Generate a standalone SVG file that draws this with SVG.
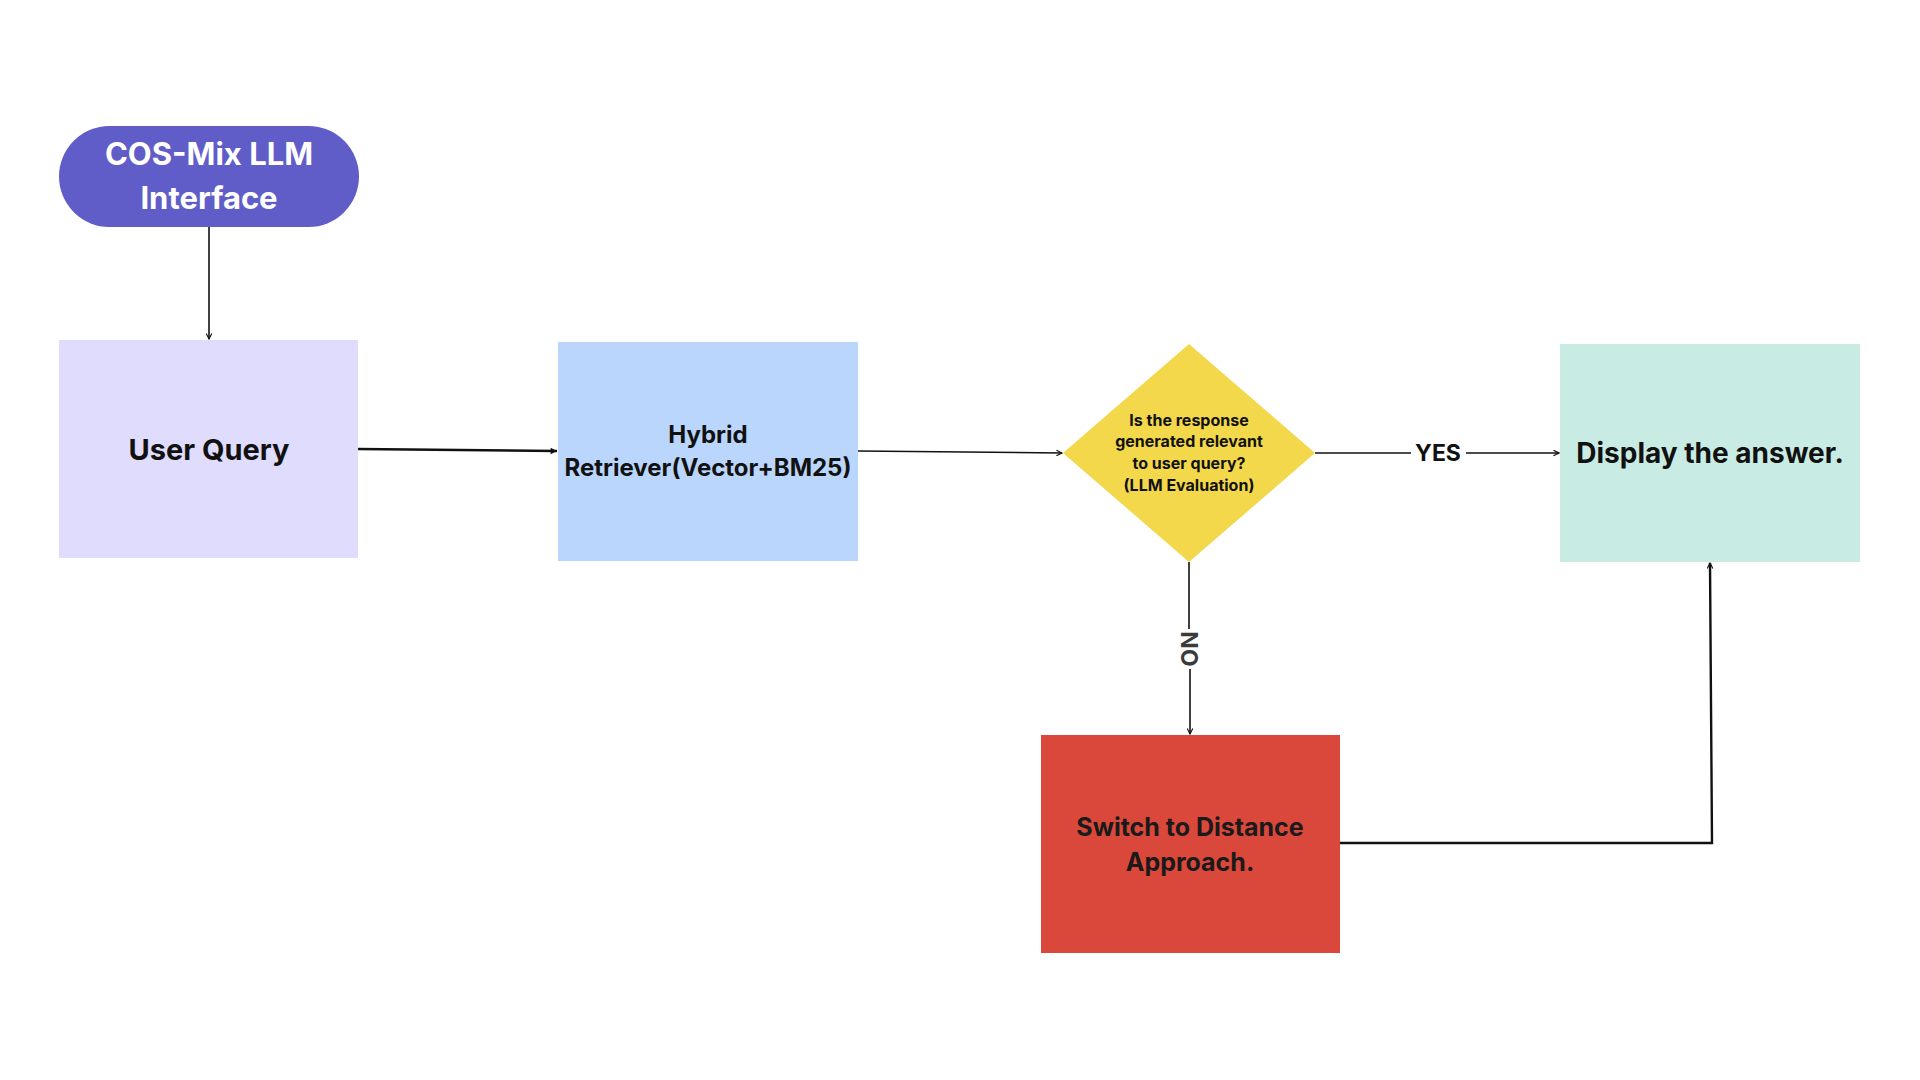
<svg xmlns="http://www.w3.org/2000/svg" width="1920" height="1080" viewBox="0 0 1920 1080">
  <style>
    text { font-family: Inter, "Liberation Sans", sans-serif; font-weight: 700; text-anchor: middle; fill: #111111; }
    .conn { fill: none; stroke: #111111; stroke-width: 1.6; }
    .thick { stroke-width: 2.4; }
  </style>
  <defs>
    <marker id="arr" viewBox="0 0 10 10" refX="9" refY="5" markerWidth="7" markerHeight="7" markerUnits="userSpaceOnUse" orient="auto">
      <path d="M1,1 L9,5 L1,9" fill="none" stroke="#111111" stroke-width="1.6"/>
    </marker>
    <marker id="arrf" viewBox="0 0 10 10" refX="9" refY="5" markerWidth="8" markerHeight="8" markerUnits="userSpaceOnUse" orient="auto">
      <path d="M1,1 L9,5 L1,9 Z" fill="#111111"/>
    </marker>
  </defs>
  <rect width="1920" height="1080" fill="#ffffff"/>

  <g id="connectors">
    <line class="conn" x1="209" y1="227" x2="209" y2="339" marker-end="url(#arr)"/>
    <line class="conn thick" x1="358" y1="449" x2="557" y2="451" marker-end="url(#arrf)"/>
    <line class="conn" x1="858" y1="451" x2="1062" y2="453" marker-end="url(#arr)"/>
    <line class="conn" x1="1315" y1="453" x2="1411" y2="453"/>
    <line class="conn" x1="1466" y1="453" x2="1559" y2="453" marker-end="url(#arr)"/>
    <text x="1438" y="461" style="font-size:23px">YES</text>
    <line class="conn" x1="1189" y1="562" x2="1189" y2="629"/>
    <line class="conn" x1="1190" y1="669" x2="1190" y2="734" marker-end="url(#arr)"/>
    <text x="1189" y="649" transform="rotate(90 1189 649)" dy="8" style="font-size:23px; fill:#3a3a3a">NO</text>
    <polyline class="conn thick" points="1340,843 1712,843 1710,563" marker-end="url(#arr)"/>
  </g>

  <g id="node-interface">
    <rect x="59" y="126" width="300" height="101" rx="50.5" fill="#605dc8"/>
    <text x="209" y="165" style="font-size:31px; fill:#ffffff">COS-Mix LLM</text>
    <text x="209" y="209" style="font-size:31px; fill:#ffffff">Interface</text>
  </g>

  <g id="node-user-query">
    <rect x="59" y="340" width="299" height="218" fill="#e0dcfe"/>
    <text x="209" y="460" style="font-size:29px">User Query</text>
  </g>

  <g id="node-hybrid">
    <rect x="558" y="342" width="300" height="219" fill="#bad6fd"/>
    <text x="708" y="443" style="font-size:24px">Hybrid</text>
    <text x="708" y="476" style="font-size:24px">Retriever(Vector+BM25)</text>
  </g>

  <g id="node-decision">
    <polygon points="1189,344 1315,453 1189,562 1063,453" fill="#f3d84b"/>
    <text x="1189" y="426" style="font-size:16px">Is the response</text>
    <text x="1189" y="447" style="font-size:16px">generated relevant</text>
    <text x="1189" y="469" style="font-size:16px">to user query?</text>
    <text x="1189" y="491" style="font-size:16px">(LLM Evaluation)</text>
  </g>

  <g id="node-display">
    <rect x="1560" y="344" width="300" height="218" fill="#c8ece4"/>
    <text x="1710" y="463" style="font-size:28px">Display the answer.</text>
  </g>

  <g id="node-switch">
    <rect x="1041" y="735" width="299" height="218" fill="#d9483a"/>
    <text x="1190" y="836" style="font-size:25px; fill:#1a1a1a">Switch to Distance</text>
    <text x="1190" y="871" style="font-size:25px; fill:#1a1a1a">Approach.</text>
  </g>
</svg>
